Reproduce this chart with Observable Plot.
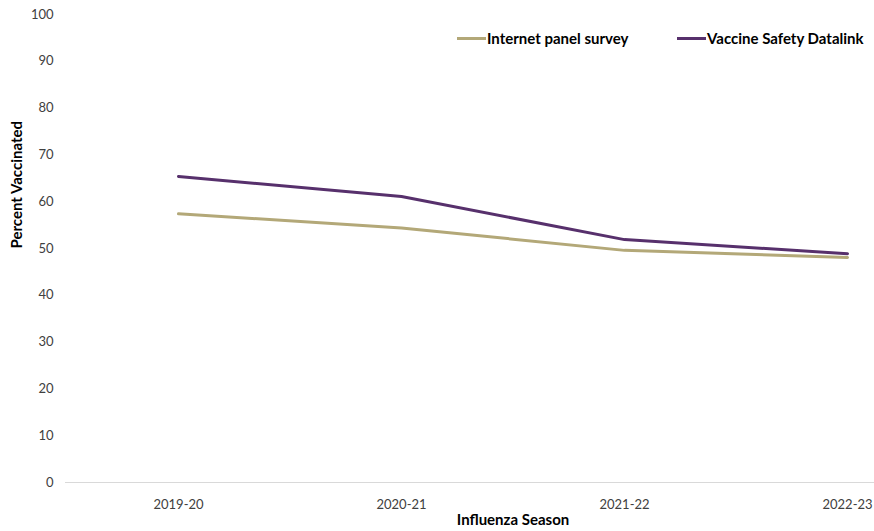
<!DOCTYPE html>
<html>
<head>
<meta charset="utf-8">
<script src="https://cdn.jsdelivr.net/npm/d3@7"></script>
<script src="https://cdn.jsdelivr.net/npm/@observablehq/plot@0.6"></script>
<style>
  html, body { margin: 0; padding: 0; background: #fff; }
  body { font-family: Lato, "Open Sans", sans-serif; }
  #wrap { position: relative; width: 874px; height: 531px; overflow: hidden; }
  .legend { position: absolute; top: 29px; height: 18px; line-height: 18px; font-size: 15px; font-weight: bold; color: #000; display: flex; align-items: center; white-space: nowrap; }
  .legend .sw { display: inline-block; width: 29px; height: 3px; margin-right: 1px; }
</style>
</head>
<body>
<div id="wrap"></div>
<script>
const seasons = ["2019-20", "2020-21", "2021-22", "2022-23"];
const seriesNames = ["Internet panel survey", "Vaccine Safety Datalink"];
const internetPanel = [57.4, 54.4, 49.6, 48.1];
const vaccineSafetyDatalink = [65.4, 61.1, 51.9, 48.9];
const yTicks = [0, 10, 20, 30, 40, 50, 60, 70, 80, 90, 100];
const colors = ["#b3a878", "#57306c"];

const data = [];
seasons.forEach((s, i) => {
  data.push({season: s, series: seriesNames[0], value: internetPanel[i]});
  data.push({season: s, series: seriesNames[1], value: vaccineSafetyDatalink[i]});
});

const chart = Plot.plot({
  width: 874,
  height: 531,
  marginTop: 14,
  marginBottom: 49,
  marginLeft: 65,
  marginRight: 0,
  style: {fontFamily: "Lato, 'Open Sans', sans-serif", fontSize: "13px", color: "#404040", background: "#fff"},
  x: {type: "point", domain: seasons, range: [177, 848], padding: 0, label: null},
  y: {domain: [0, 100], label: null},
  color: {domain: seriesNames, range: colors},
  marks: [
    Plot.ruleY([0], {stroke: "#d9d9d9", strokeWidth: 1}),
    Plot.axisY({ticks: yTicks, tickSize: 0, tickPadding: 12, label: null, fill: "#404040", fontSize: 13}),
    Plot.axisX({tickSize: 0, tickPadding: 17, label: null, fill: "#404040", fontSize: 13}),
    Plot.lineY(data, {x: "season", y: "value", stroke: "series", z: "series", strokeWidth: 3}),
    Plot.text(["Percent Vaccinated"], {frameAnchor: "left", dx: -48, rotate: -90, fontWeight: "bold", fontSize: 15, fill: "#000"}),
    Plot.text(["Influenza Season"], {frameAnchor: "bottom", dx: 43, dy: 42, fontWeight: "bold", fontSize: 15, fill: "#000"})
  ]
});

const wrap = document.getElementById("wrap");
wrap.appendChild(chart);

const legendLeft = [457, 677];
seriesNames.forEach((name, i) => {
  const d = document.createElement("div");
  d.className = "legend";
  d.style.left = legendLeft[i] + "px";
  const sw = document.createElement("span");
  sw.className = "sw";
  sw.style.background = colors[i];
  d.appendChild(sw);
  d.appendChild(document.createTextNode(name));
  wrap.appendChild(d);
});
</script>
</body>
</html>
